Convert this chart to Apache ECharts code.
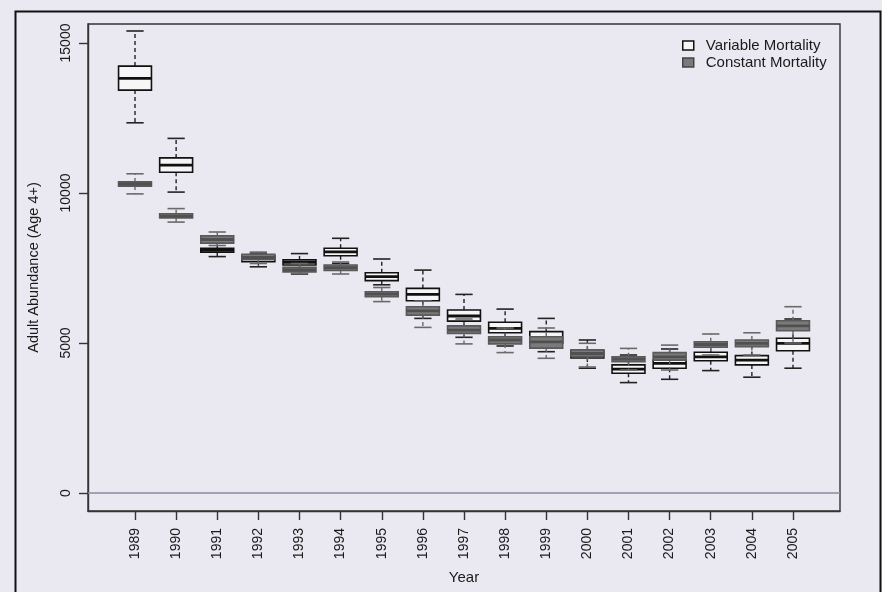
<!DOCTYPE html>
<html>
<head>
<meta charset="utf-8">
<script src="https://cdn.jsdelivr.net/npm/echarts@6/dist/echarts.min.js"></script>
<style>
html,body{margin:0;padding:0;background:#eae9f2;}
#chart{width:882px;height:592px;}
</style>
</head>
<body>
<div id="chart"></div>
<script>
// Categories (years)
const years = ['1989','1990','1991','1992','1993','1994','1995','1996','1997','1998','1999','2000','2001','2002','2003','2004','2005'];
// Box statistics: [lower whisker, Q1, median, Q3, upper whisker]
const variableStats = [
  [12340, 13430, 13820, 14230, 15400],
  [10030, 10690, 10930, 11170, 11820],
  [7880, 8030, 8100, 8160, 8330],
  [7540, 7710, 7810, 7910, 8000],
  [7300, 7600, 7690, 7770, 7980],
  [7650, 7910, 8040, 8160, 8490],
  [6940, 7080, 7210, 7340, 7800],
  [5820, 6410, 6620, 6820, 7430],
  [5190, 5730, 5900, 6100, 6620],
  [4900, 5340, 5490, 5690, 6130],
  [4710, 4990, 5180, 5380, 5820],
  [4160, 4500, 4630, 4750, 5100],
  [3680, 3990, 4130, 4270, 4600],
  [3790, 4160, 4320, 4430, 4800],
  [4080, 4410, 4540, 4690, 5000],
  [3860, 4270, 4430, 4580, 4900],
  [4160, 4740, 4990, 5160, 5800]
];
const constantStats = [
  [9970, 10230, 10300, 10370, 10640],
  [9030, 9170, 9230, 9310, 9480],
  [8250, 8330, 8450, 8570, 8700],
  [7650, 7780, 7850, 7960, 8030],
  [7320, 7370, 7440, 7520, 7650],
  [7300, 7420, 7510, 7600, 7700],
  [6380, 6540, 6630, 6710, 6850],
  [5520, 5930, 6070, 6210, 6400],
  [4970, 5320, 5430, 5570, 5800],
  [4680, 4970, 5100, 5210, 5500],
  [4490, 4830, 5040, 5210, 5500],
  [4200, 4550, 4650, 4770, 4990],
  [4100, 4380, 4460, 4540, 4820],
  [4100, 4430, 4540, 4680, 4930],
  [4600, 4860, 4950, 5040, 5300],
  [4600, 4880, 4990, 5100, 5340],
  [5000, 5410, 5570, 5740, 6210]
];
const yTicks = [0, 5000, 10000, 15000];
const seriesNames = ['Variable Mortality', 'Constant Mortality'];

const FONT = "'Liberation Sans', Arial, Helvetica, sans-serif";
const xTickPos = years.map((y, i) => i);

function makeRender(st) {
  return function (params, api) {
    const x = api.value(0);
    const mn = api.value(1), q1 = api.value(2), md = api.value(3), q3 = api.value(4), mx = api.value(5);
    const bw = api.size([0.8, 0])[0];
    const cw = api.size([0.42, 0])[0];
    const c = api.coord([x, 0])[0];
    const yMin = api.coord([x, mn])[1];
    const yQ1 = api.coord([x, q1])[1];
    const yMd = api.coord([x, md])[1];
    const yQ3 = api.coord([x, q3])[1];
    const yMx = api.coord([x, mx])[1];
    const wStyle = {stroke: st.whisker, lineWidth: 1.4, lineDash: [4, 3]};
    const capStyle = {stroke: st.whisker, lineWidth: 1.6};
    return {
      type: 'group',
      children: [
        {type: 'line', shape: {x1: c, y1: yQ3, x2: c, y2: yMx}, style: wStyle},
        {type: 'line', shape: {x1: c, y1: yQ1, x2: c, y2: yMin}, style: wStyle},
        {type: 'line', shape: {x1: c - cw / 2, y1: yMx, x2: c + cw / 2, y2: yMx}, style: capStyle},
        {type: 'line', shape: {x1: c - cw / 2, y1: yMin, x2: c + cw / 2, y2: yMin}, style: capStyle},
        {type: 'rect', shape: {x: c - bw / 2, y: yQ3, width: bw, height: yQ1 - yQ3},
          style: {fill: st.fill, stroke: st.border, lineWidth: 1.6}},
        {type: 'line', shape: {x1: c - bw / 2, y1: yMd, x2: c + bw / 2, y2: yMd},
          style: {stroke: st.median, lineWidth: 2.8}}
      ]
    };
  };
}

const variableData = years.map((y, i) => [i].concat(variableStats[i]));
const constantData = years.map((y, i) => [i].concat(constantStats[i]));

const chart = echarts.init(document.getElementById('chart'), null, {renderer: 'canvas'});
chart.setOption({
  backgroundColor: '#eae9f2',
  animation: false,
  textStyle: {fontFamily: FONT},
  graphic: [{
    type: 'rect', left: 13, top: 9, z: 100,
    shape: {x: 0, y: 0, width: 865, height: 600},
    style: {fill: 'none', stroke: '#111', lineWidth: 2}
  }],
  legend: {
    orient: 'vertical',
    left: 682, top: 38, padding: 0,
    itemWidth: 11, itemHeight: 9, itemGap: 2,
    textStyle: {fontFamily: FONT, fontSize: 15, color: '#1a1a1a', padding: [0, 0, 0, 7]},
    data: [
      {name: seriesNames[0], icon: 'rect', itemStyle: {color: '#f6f6f6', borderColor: '#111', borderWidth: 1.5}},
      {name: seriesNames[1], icon: 'rect', itemStyle: {color: '#7a7a7a', borderColor: '#444', borderWidth: 1.5}}
    ]
  },
  grid: {
    left: 88, right: 42, top: 24, bottom: 81,
    show: true, borderColor: '#333', borderWidth: 1.4, backgroundColor: 'transparent'
  },
  xAxis: {
    type: 'value', min: -1.143, max: 17.143,
    name: 'Year', nameLocation: 'middle', nameGap: 59,
    nameTextStyle: {fontFamily: FONT, fontSize: 15, color: '#1a1a1a'},
    axisLine: {show: true, onZero: false, lineStyle: {color: '#333', width: 1.4}},
    axisTick: {show: true, length: 9, customValues: xTickPos, lineStyle: {color: '#333', width: 1.4}},
    axisLabel: {
      show: true, rotate: 90, margin: 17, customValues: xTickPos,
      fontFamily: FONT, fontSize: 14, color: '#1a1a1a',
      formatter: function (v) { return years[Math.round(v)]; }
    },
    splitLine: {show: false}
  },
  yAxis: {
    type: 'value', min: -600, max: 15633,
    name: 'Adult Abundance (Age 4+)', nameLocation: 'middle', nameGap: 47, nameRotate: 90,
    nameTextStyle: {fontFamily: FONT, fontSize: 14.5, color: '#1a1a1a'},
    axisLine: {show: true, onZero: false, lineStyle: {color: '#333', width: 1.4}},
    axisTick: {show: true, length: 9, customValues: yTicks, lineStyle: {color: '#333', width: 1.4}},
    axisLabel: {
      show: true, rotate: 90, margin: 15, customValues: yTicks,
      fontFamily: FONT, fontSize: 14, color: '#1a1a1a',
      formatter: function (v) { return String(Math.round(v)); }
    },
    splitLine: {show: false}
  },
  series: [
    {
      name: seriesNames[0], type: 'custom',
      itemStyle: {color: '#f6f6f6', borderColor: '#111'},
      renderItem: makeRender({fill: '#f6f6f6', border: '#111', median: '#111', whisker: '#222'}),
      encode: {x: 0, y: [1, 2, 3, 4, 5]},
      data: variableData,
      markLine: {
        silent: true, symbol: 'none',
        label: {show: false},
        lineStyle: {color: '#8a8a9c', width: 1.6, type: 'solid'},
        data: [{yAxis: 0}]
      }
    },
    {
      name: seriesNames[1], type: 'custom',
      itemStyle: {color: '#7a7a7a', borderColor: '#444'},
      renderItem: makeRender({fill: '#7a7a7a', border: '#5a5a5a', median: '#505050', whisker: '#6a6a6a'}),
      encode: {x: 0, y: [1, 2, 3, 4, 5]},
      data: constantData
    }
  ]
});
</script>
</body>
</html>
